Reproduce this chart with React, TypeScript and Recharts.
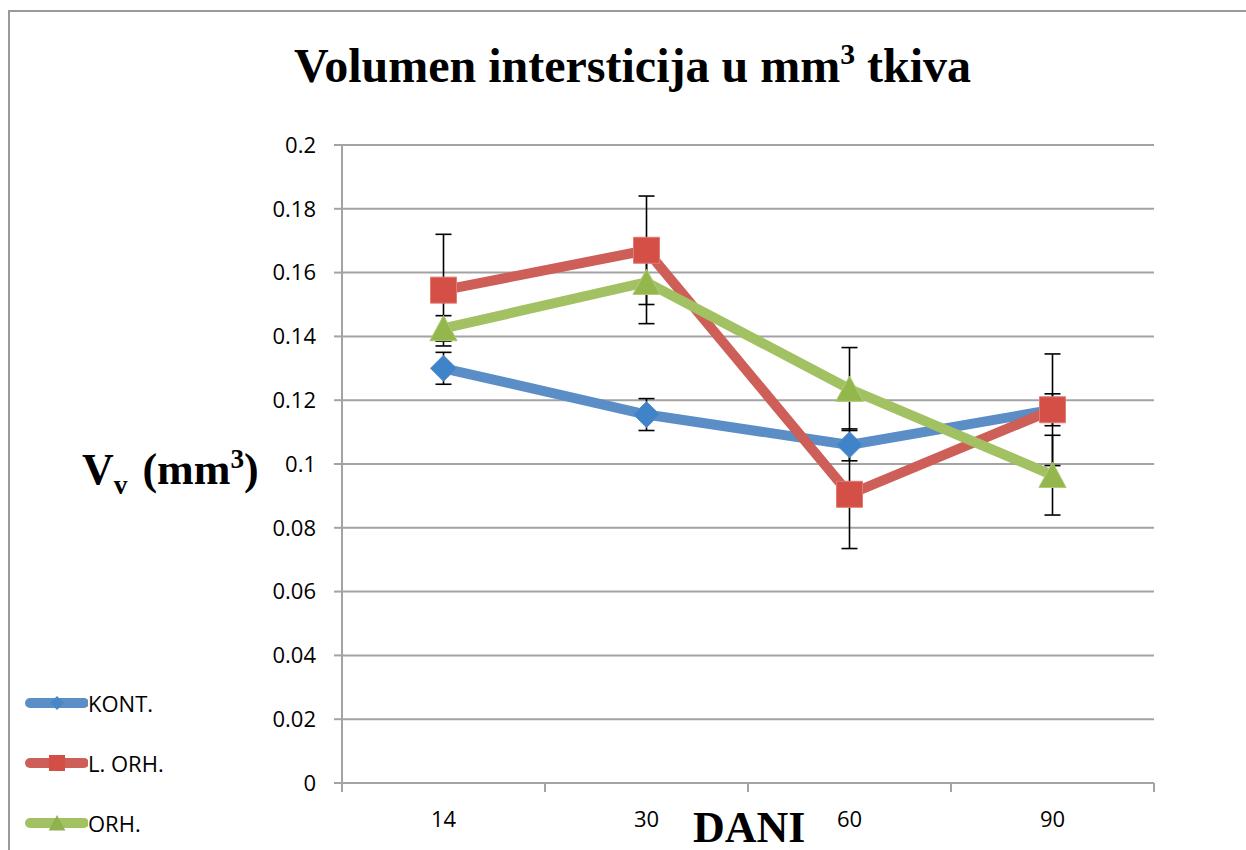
import React from 'react';
import {
  LineChart,
  Line,
  XAxis,
  YAxis,
  CartesianGrid,
  Legend,
  ErrorBar,
} from 'recharts';

// days on the x axis
const days = ['14', '30', '60', '90'];

// series means
const kont = [0.13, 0.1155, 0.106, 0.117];
const lOrh = [0.1545, 0.167, 0.0905, 0.117];
const orh = [0.1425, 0.157, 0.1235, 0.0965];

// standard errors (symmetric)
const kontErr = [0.005, 0.005, 0.005, 0.005];
const lOrhErr = [0.0175, 0.017, 0.017, 0.0175];
const orhErr = [0.004, 0.013, 0.013, 0.0125];

const yTicks = [0, 0.02, 0.04, 0.06, 0.08, 0.1, 0.12, 0.14, 0.16, 0.18, 0.2];

const seriesNames = ['KONT.', 'L. ORH.', 'ORH.'];

const data = days.map((d, i) => ({
  day: d,
  kont: kont[i],
  kontErr: kontErr[i],
  lOrh: lOrh[i],
  lOrhErr: lOrhErr[i],
  orh: orh[i],
  orhErr: orhErr[i],
}));

const W = 1246;
const H = 850;
const PLOT_LEFT = 342;
const PLOT_RIGHT = 1154;
const HALF_BAND = (PLOT_RIGHT - PLOT_LEFT) / days.length / 2;

const BLUE = '#5b8ec7';
const RED = '#cd5f58';
const GREEN = '#a2c163';
const GRID = '#a3a3a3';
const SANS = '"Open Sans", "Liberation Sans", sans-serif';
const SERIF = '"Liberation Serif", "DejaVu Serif", serif';

const diamondPath = (cx: number, cy: number, r: number) =>
  `M${cx},${cy - r}L${cx + r},${cy}L${cx},${cy + r}L${cx - r},${cy}Z`;
const squarePath = (cx: number, cy: number, r: number) =>
  `M${cx - r},${cy - r}H${cx + r}V${cy + r}H${cx - r}Z`;
const trianglePath = (cx: number, cy: number, r: number) =>
  `M${cx},${cy - r}L${cx + r * 1.05},${cy + r * 0.95}L${cx - r * 1.05},${cy + r * 0.95}Z`;

const DiamondDot = (props: any) => {
  const { cx, cy, index } = props;
  if (cx == null || cy == null) return <g key={`kd-${index}`} />;
  return (
    <path key={`kd-${index}`} d={diamondPath(cx, cy, 13)} fill="#3f83c8" stroke="#5b8ec7" strokeWidth={1} />
  );
};

const SquareDot = (props: any) => {
  const { cx, cy, index } = props;
  if (cx == null || cy == null) return <g key={`ls-${index}`} />;
  return (
    <path key={`ls-${index}`} d={squarePath(cx, cy, 13)} fill="#d44f45" stroke="#e07a72" strokeWidth={1} />
  );
};

const TriangleDot = (props: any) => {
  const { cx, cy, index } = props;
  if (cx == null || cy == null) return <g key={`ot-${index}`} />;
  return (
    <path key={`ot-${index}`} d={trianglePath(cx, cy, 13)} fill="#93b74c" stroke="#b0cc7a" strokeWidth={1} />
  );
};

const XTick = (props: any) => {
  const { x, y, payload, index } = props;
  const isLast = index === days.length - 1;
  return (
    <g>
      <line x1={x - HALF_BAND} y1={y} x2={x - HALF_BAND} y2={y + 9} stroke={GRID} strokeWidth={2} />
      {isLast && (
        <line x1={x + HALF_BAND} y1={y} x2={x + HALF_BAND} y2={y + 9} stroke={GRID} strokeWidth={2} />
      )}
      <text x={x} y={y + 44} textAnchor="middle" fontFamily={SANS} fontSize={22} fill="#000">
        {payload.value}
      </text>
    </g>
  );
};

const legendMarkers = [
  (cx: number, cy: number) => <path d={diamondPath(cx, cy, 7)} fill="#4a86c6" />,
  (cx: number, cy: number) => <path d={squarePath(cx, cy, 8)} fill="#d24f46" />,
  (cx: number, cy: number) => <path d={trianglePath(cx, cy, 8)} fill="#8fb24e" />,
];
const legendColors = [BLUE, RED, GREEN];

const LegendContent = () => (
  <div style={{ display: 'flex', flexDirection: 'column' }}>
    {seriesNames.map((name, i) => (
      <div key={name} style={{ display: 'flex', alignItems: 'center', height: 60 }}>
        <svg width={64} height={30}>
          <line x1={6} y1={15} x2={60} y2={15} stroke={legendColors[i]} strokeWidth={10} strokeLinecap="round" />
          {legendMarkers[i](33, 15)}
        </svg>
        <span style={{ fontFamily: SANS, fontSize: 22, color: '#000', lineHeight: '30px' }}>{name}</span>
      </div>
    ))}
  </div>
);

export default function App() {
  return (
    <div style={{ position: 'absolute', left: 0, top: 0, width: W, height: H, background: '#fff', overflow: 'hidden' }}>
      <div
        style={{
          position: 'absolute',
          left: 8,
          top: 10,
          width: W,
          height: H,
          borderLeft: '2px solid #9a9a9a',
          borderTop: '2px solid #9a9a9a',
        }}
      />
      <LineChart
        width={W}
        height={H}
        data={data}
        margin={{ top: 145, right: W - PLOT_RIGHT, bottom: 27, left: PLOT_LEFT - 80 }}
      >
        <CartesianGrid vertical={false} stroke={GRID} strokeWidth={2} />
        <XAxis
          dataKey="day"
          height={40}
          padding={{ left: HALF_BAND, right: HALF_BAND }}
          axisLine={{ stroke: GRID, strokeWidth: 2 }}
          tickLine={false}
          tickSize={0}
          tickMargin={0}
          tick={<XTick />}
          interval={0}
        />
        <YAxis
          width={80}
          domain={[0, 0.2]}
          ticks={yTicks}
          interval={0}
          axisLine={{ stroke: GRID, strokeWidth: 2 }}
          tickLine={{ stroke: GRID, strokeWidth: 2 }}
          tickSize={8}
          tickMargin={18}
          tick={{ fontFamily: SANS, fontSize: 22, fill: '#000' }}
        />
        <Legend
          layout="vertical"
          align="center"
          verticalAlign="middle"
          content={<LegendContent />}
          wrapperStyle={{ position: 'absolute', left: 24, top: 673, width: 200, bottom: 'auto', right: 'auto' }}
        />
        <Line
          dataKey="kont"
          name={seriesNames[0]}
          stroke={BLUE}
          strokeWidth={10}
          dot={<DiamondDot />}
          activeDot={false}
          isAnimationActive={false}
        >
          <ErrorBar dataKey="kontErr" width={8} stroke="#000" strokeWidth={1.6} direction="y" isAnimationActive={false} />
        </Line>
        <Line
          dataKey="lOrh"
          name={seriesNames[1]}
          stroke={RED}
          strokeWidth={10}
          dot={<SquareDot />}
          activeDot={false}
          isAnimationActive={false}
        >
          <ErrorBar dataKey="lOrhErr" width={8} stroke="#000" strokeWidth={1.6} direction="y" isAnimationActive={false} />
        </Line>
        <Line
          dataKey="orh"
          name={seriesNames[2]}
          stroke={GREEN}
          strokeWidth={10}
          dot={<TriangleDot />}
          activeDot={false}
          isAnimationActive={false}
        >
          <ErrorBar dataKey="orhErr" width={8} stroke="#000" strokeWidth={1.6} direction="y" isAnimationActive={false} />
        </Line>
      </LineChart>
      <div
        style={{
          position: 'absolute',
          left: 0,
          width: 1265,
          top: 38,
          textAlign: 'center',
          fontFamily: SERIF,
          fontWeight: 'bold',
          fontSize: 48,
          color: '#000',
          lineHeight: '56px',
          whiteSpace: 'nowrap',
        }}
      >
        Volumen intersticija u mm<sup style={{ fontSize: '0.62em', verticalAlign: '0.6em', lineHeight: 0 }}>3</sup> tkiva
      </div>
      <div
        style={{
          position: 'absolute',
          left: 82,
          top: 445,
          fontFamily: SERIF,
          fontWeight: 'bold',
          fontSize: 44,
          color: '#000',
          lineHeight: '50px',
          whiteSpace: 'nowrap',
        }}
      >
        V<sub style={{ fontSize: '0.62em', verticalAlign: '-0.35em', lineHeight: 0, marginRight: 4 }}>v</sub> (mm
        <sup style={{ fontSize: '0.62em', verticalAlign: '0.6em', lineHeight: 0 }}>3</sup>)
      </div>
      <div
        style={{
          position: 'absolute',
          left: 693,
          top: 807,
          fontFamily: SERIF,
          fontWeight: 'bold',
          fontSize: 44,
          color: '#000',
          lineHeight: '42px',
          whiteSpace: 'nowrap',
        }}
      >
        DANI
      </div>
    </div>
  );
}
